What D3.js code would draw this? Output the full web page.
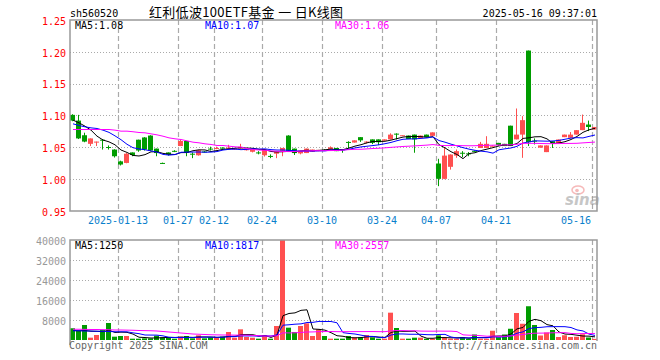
<!DOCTYPE html>
<html>
<head>
<meta charset="utf-8">
<script src="https://cdn.jsdelivr.net/npm/d3@7"></script>
<style>
  body { margin: 0; background: #fff; }
  svg { display: block; }
  text { font-family: "DejaVu Sans Mono", monospace; font-size: 10px; }
</style>
</head>
<body>
<svg></svg>
<script>
// trading days shown (one candle each)
const dates = [
  "2024-12-31","2025-01-02","2025-01-03","2025-01-06","2025-01-07","2025-01-08","2025-01-09","2025-01-10",
  "2025-01-13","2025-01-14","2025-01-15","2025-01-16","2025-01-17","2025-01-20","2025-01-21","2025-01-22",
  "2025-01-23","2025-01-24","2025-01-27","2025-02-05","2025-02-06","2025-02-07","2025-02-10","2025-02-11",
  "2025-02-12","2025-02-13","2025-02-14","2025-02-17","2025-02-18","2025-02-19","2025-02-20","2025-02-21",
  "2025-02-24","2025-02-25","2025-02-26","2025-02-27","2025-02-28","2025-03-03","2025-03-04","2025-03-05",
  "2025-03-06","2025-03-07","2025-03-10","2025-03-11","2025-03-12","2025-03-13","2025-03-14","2025-03-17",
  "2025-03-18","2025-03-19","2025-03-20","2025-03-21","2025-03-24","2025-03-25","2025-03-26","2025-03-27",
  "2025-03-28","2025-03-31","2025-04-01","2025-04-02","2025-04-03","2025-04-07","2025-04-08","2025-04-09",
  "2025-04-10","2025-04-11","2025-04-14","2025-04-15","2025-04-16","2025-04-17","2025-04-18","2025-04-21",
  "2025-04-22","2025-04-23","2025-04-24","2025-04-25","2025-04-28","2025-04-29","2025-04-30","2025-05-06",
  "2025-05-07","2025-05-08","2025-05-09","2025-05-12","2025-05-13","2025-05-14","2025-05-15","2025-05-16"
];

const openP = [
  1.101,1.092,1.069,1.0555,1.0585,1.062,1.0505,1.0465,1.028,1.0255,1.042,1.062,1.0655,1.0685,1.048,1.0255,
  1.042,1.0445,1.052,1.060,1.040,1.0375,1.0435,1.048,1.0485,1.0495,1.049,1.047,1.0482,1.046,1.043,1.042,
  1.0375,1.0365,1.040,1.0445,1.0685,1.048,1.0405,1.041,1.043,1.044,1.046,1.0465,1.049,1.047,1.0585,1.0575,
  1.066,1.058,1.0625,1.0625,1.0605,1.0625,1.0715,1.068,1.0685,1.070,1.0645,1.070,1.068,1.0246,1.0005,1.0194,
  1.037,1.0415,1.0405,1.0445,1.049,1.049,1.052,1.057,1.0555,1.084,1.0625,1.070,1.202,1.0605,1.0495,1.0425,
  1.0597,1.057,1.066,1.065,1.070,1.077,1.0858,1.078
];
const closeP = [
  1.092,1.064,1.059,1.064,1.059,1.0615,1.0495,1.036,1.023,1.040,1.038,1.045,1.0465,1.045,1.041,1.025,
  1.0385,1.044,1.060,1.0415,1.0395,1.0455,1.043,1.0475,1.049,1.049,1.0495,1.048,1.0508,1.047,1.047,1.0415,
  1.046,1.036,1.043,1.049,1.0445,1.041,1.0445,1.048,1.0465,1.046,1.0455,1.050,1.044,1.0465,1.058,1.061,
  1.061,1.059,1.057,1.058,1.0625,1.070,1.071,1.069,1.063,1.0625,1.0685,1.066,1.0735,1.0005,1.037,1.0387,
  1.044,1.041,1.040,1.044,1.0555,1.0555,1.0525,1.0535,1.052,1.052,1.070,1.0927,1.058,1.060,1.053,1.053,
  1.056,1.0623,1.070,1.070,1.077,1.0885,1.082,1.082
];
const highP = [
  1.102,1.101,1.073,1.064,1.059,1.063,1.053,1.047,1.029,1.041,1.042,1.062,1.066,1.069,1.048,1.026,
  1.042,1.0455,1.062,1.060,1.042,1.046,1.044,1.051,1.051,1.050,1.054,1.049,1.0555,1.048,1.047,1.044,
  1.046,1.039,1.043,1.049,1.069,1.048,1.0445,1.048,1.0465,1.046,1.047,1.0515,1.049,1.047,1.0595,1.061,
  1.066,1.0595,1.0625,1.0625,1.0625,1.072,1.072,1.069,1.0685,1.070,1.0685,1.070,1.0735,1.032,1.050,1.039,
  1.0466,1.044,1.0425,1.045,1.0585,1.0675,1.053,1.057,1.0555,1.084,1.111,1.099,1.202,1.064,1.053,1.053,
  1.0597,1.0623,1.070,1.074,1.077,1.1015,1.092,1.082
];
const lowP = [
  1.091,1.063,1.058,1.052,1.052,1.0465,1.0465,1.034,1.0215,1.025,1.036,1.043,1.045,1.044,1.036,1.024,
  1.037,1.0425,1.052,1.036,1.033,1.037,1.042,1.045,1.047,1.048,1.048,1.046,1.048,1.045,1.042,1.039,
  1.0355,1.033,1.033,1.036,1.044,1.038,1.039,1.041,1.043,1.044,1.045,1.0465,1.044,1.0415,1.0485,1.0575,
  1.0585,1.056,1.055,1.0535,1.0605,1.0625,1.0625,1.068,1.063,1.0415,1.0645,1.066,1.068,0.989,1.000,1.015,
  1.0335,1.0345,1.036,1.043,1.049,1.049,1.0515,1.052,1.052,1.052,1.0625,1.0335,1.052,1.0545,1.0495,1.0425,
  1.049,1.057,1.066,1.065,1.070,1.077,1.0755,1.078
];
const volume = [
  4700,3730,6000,930,2000,4000,6800,1330,1600,1600,530,530,670,670,1730,1070,
  1070,530,1330,1600,670,1870,670,1070,930,1330,3200,930,4270,1200,930,530,
  2000,530,5600,40000,4930,3200,5600,6670,1600,4270,1600,530,530,530,1600,1070,
  1070,2000,1070,530,530,10930,4800,530,530,930,930,530,530,1870,930,530,
  530,1070,530,2200,530,530,3700,1070,2200,4500,10800,6500,13500,6000,1800,3000,
  4000,1200,1900,1200,1300,2300,1000,450
];

// moving averages for the first days (history before the window)
const ma5Head = [1.0927,1.0885,1.0832,1.077];
const ma10Head = [1.0869,1.0843,1.0822,1.0806,1.0796,1.077,1.0735,1.068,1.062];
const ma30Head = [1.078,1.078,1.078,1.078,1.078,1.078,1.078,1.077,1.0754,1.0754,1.0745,1.0733,1.0728,1.0712,
  1.0696,1.0675,1.0649,1.0634,1.0623,1.0602,1.0581,1.0571,1.0555,1.0545,1.0529,1.0529,1.0518,1.0508,1.0503];
const vma5Head = [3800,3700,3800,3500];
const vma10Head = [3700,3700,3600,3600,3500,3500,3400,3300,3300];
const vma30Head = [4300,4300,4250,4200,4200,4150,4100,4000,4000,3950,3900,3800,3750,3700,3600,3400,3200,3000,
  2800,2600,2400,2300,2200,2100,2050,2000,2000,1950,1950];

const priceTicks = [0.95, 1.00, 1.05, 1.10, 1.15, 1.20, 1.25];
const volTicks = [8000, 16000, 24000, 32000, 40000];
const tickDates = ["2025-01-13","2025-01-27","2025-02-12","2025-02-24","2025-03-10","2025-03-24","2025-04-07","2025-04-21","2025-05-16"];
const tickLabels = ["2025-01-13","01-27","02-12","02-24","03-10","03-24","04-07","04-21","05-16"];
const priceMaText = ["MA5:1.08","MA10:1.07","MA30:1.06"];
const volMaText = ["MA5:1250","MA10:1817","MA30:2557"];

const width = 660;
const height = 360;
const left = 70;
const right = 597;
const RED = "#ff5050";
const GREEN = "#009c00";
const maColors = ["#000000", "#0000ff", "#ff00ff"];

const svg = d3.select("svg").attr("width", width).attr("height", height);

const x = d3.scaleBand().domain(dates).range([left, left + dates.length * 6]);
const yPrice = d3.scaleLinear().domain([0.95, 1.25]).range([211, 20]);
const yVol = d3.scaleLinear().domain([0, 40000]).range([340, 240]);

const movingAvg = (vals, n, head) =>
  vals.map((v, i) => (i < n - 1 ? head[i] : d3.mean(vals.slice(i - n + 1, i + 1))));

const priceMa = [movingAvg(closeP, 5, ma5Head), movingAvg(closeP, 10, ma10Head), movingAvg(closeP, 30, ma30Head)];
const volMa = [movingAvg(volume, 5, vma5Head), movingAvg(volume, 10, vma10Head), movingAvg(volume, 30, vma30Head)];

// header
svg.append("text").attr("x", 70).attr("y", 17).text("sh560520");
svg.append("text")
  .attr("x", 149).attr("y", 17)
  .attr("textLength", 194).attr("lengthAdjust", "spacing")
  .style("font-family", "'Noto Sans CJK SC', sans-serif")
  .style("font-size", "13px")
  .text("红利低波100ETF基金 一 日K线图");
svg.append("text").attr("x", 597).attr("y", 17).attr("text-anchor", "end").text("2025-05-16 09:37:01");

// grid lines
const grid = svg.append("g");
grid.selectAll(".hg")
  .data(priceTicks.filter((t) => t > 0.95 && t < 1.25))
  .enter().append("line")
  .attr("x1", left).attr("x2", right)
  .attr("y1", (d) => Math.round(yPrice(d)) + 0.5).attr("y2", (d) => Math.round(yPrice(d)) + 0.5)
  .attr("stroke", "#aaa").attr("stroke-dasharray", "1,2");
grid.selectAll(".vg")
  .data(volTicks.filter((t) => t < 40000))
  .enter().append("line")
  .attr("x1", left).attr("x2", right)
  .attr("y1", (d) => yVol(d) + 0.5).attr("y2", (d) => yVol(d) + 0.5)
  .attr("stroke", "#aaa").attr("stroke-dasharray", "1,2");
[[20, 211], [240, 340]].forEach(([t, b]) => {
  grid.selectAll(null)
    .data(tickDates)
    .enter().append("line")
    .attr("x1", (d) => x(d) + 0.5).attr("x2", (d) => x(d) + 0.5)
    .attr("y1", t).attr("y2", b)
    .attr("stroke", "#aaa").attr("stroke-width", 1.2).attr("stroke-dasharray", "5,3");
});

// watermark
const wm = svg.append("g").attr("opacity", 0.55);
wm.append("ellipse").attr("cx", 578).attr("cy", 190).attr("rx", 6).attr("ry", 4)
  .attr("fill", "none").attr("stroke", "#f08080").attr("stroke-width", 1.5);
wm.append("circle").attr("cx", 577).attr("cy", 190.5).attr("r", 1.8).attr("fill", "#f08080");
wm.append("text").attr("x", 565).attr("y", 205)
  .style("font-family", "'DejaVu Sans', sans-serif").style("font-size", "15px")
  .style("font-weight", "bold").style("font-style", "italic")
  .attr("fill", "#999").text("sina");

// candles
const isUp = (i) => closeP[i] >= openP[i];
const candles = svg.append("g");
candles.selectAll("line")
  .data(dates)
  .enter().append("line")
  .attr("x1", (d) => x(d) + 2.5).attr("x2", (d) => x(d) + 2.5)
  .attr("y1", (d, i) => yPrice(highP[i])).attr("y2", (d, i) => yPrice(lowP[i]))
  .attr("stroke", (d, i) => (isUp(i) ? RED : GREEN));
candles.selectAll("rect")
  .data(dates)
  .enter().append("rect")
  .attr("x", (d) => x(d))
  .attr("width", 5)
  .attr("y", (d, i) => yPrice(Math.max(openP[i], closeP[i])))
  .attr("height", (d, i) => Math.max(1, Math.abs(yPrice(openP[i]) - yPrice(closeP[i]))))
  .attr("fill", (d, i) => (isUp(i) ? RED : GREEN));

// volume bars
svg.append("g").selectAll("rect")
  .data(volume)
  .enter().append("rect")
  .attr("x", (d, i) => x(dates[i]))
  .attr("width", 5)
  .attr("y", (d) => yVol(d))
  .attr("height", (d) => 340 - yVol(d))
  .attr("fill", (d, i) => (isUp(i) ? RED : GREEN));

// moving average lines
const priceLine = d3.line().x((d, i) => x(dates[i]) + 3).y((d) => yPrice(d));
const volLine = d3.line().x((d, i) => x(dates[i]) + 3).y((d) => yVol(d));
priceMa.forEach((s, k) => {
  svg.append("path").attr("d", priceLine(s)).attr("fill", "none").attr("stroke", maColors[k]);
});
volMa.forEach((s, k) => {
  svg.append("path").attr("d", volLine(s)).attr("fill", "none").attr("stroke", maColors[k]);
});

// frames
svg.append("rect").attr("x", left).attr("y", 20).attr("width", right - left).attr("height", 191)
  .attr("fill", "none").attr("stroke", "#999").attr("stroke-width", 1.5);
svg.append("path").attr("d", `M${left},345V240H${right}V341`)
  .attr("fill", "none").attr("stroke", "#999").attr("stroke-width", 1.5);

// y axes
const priceAxis = svg.append("g").attr("transform", `translate(${left},1)`)
  .call(d3.axisLeft(yPrice).tickValues(priceTicks).tickFormat(d3.format(".2f")).tickSize(0).tickPadding(4));
priceAxis.select(".domain").remove();
priceAxis.selectAll("text").attr("fill", "#ff0000").style("font-family", "'DejaVu Sans Mono', monospace").style("font-size", "10px");

const volAxis = svg.append("g").attr("transform", `translate(${left},1)`)
  .call(d3.axisLeft(yVol).tickValues(volTicks).tickFormat(d3.format("d")).tickSize(0).tickPadding(4));
volAxis.select(".domain").remove();
volAxis.selectAll("text").attr("fill", "#999").style("font-family", "'DejaVu Sans Mono', monospace").style("font-size", "10px");

// x labels
svg.append("g").selectAll("text")
  .data(tickDates)
  .enter().append("text")
  .attr("x", (d, i) => Math.min(x(d), 591 - tickLabels[i].length * 3))
  .attr("y", 224)
  .attr("text-anchor", "middle")
  .attr("fill", "#0a80cc")
  .text((d, i) => tickLabels[i]);

// MA legends
const legendX = [75, 205, 335];
priceMaText.forEach((t, k) => {
  svg.append("text").attr("x", legendX[k]).attr("y", 29).attr("fill", maColors[k]).text(t);
});
volMaText.forEach((t, k) => {
  svg.append("text").attr("x", legendX[k]).attr("y", 249).attr("fill", maColors[k]).text(t);
});

// footer
svg.append("text").attr("x", 69).attr("y", 349).attr("fill", "#666").text("Copyright 2025 SINA.COM");
svg.append("text").attr("x", 597).attr("y", 349).attr("text-anchor", "end").attr("fill", "#666").text("http://finance.sina.com.cn");
</script>
</body>
</html>
